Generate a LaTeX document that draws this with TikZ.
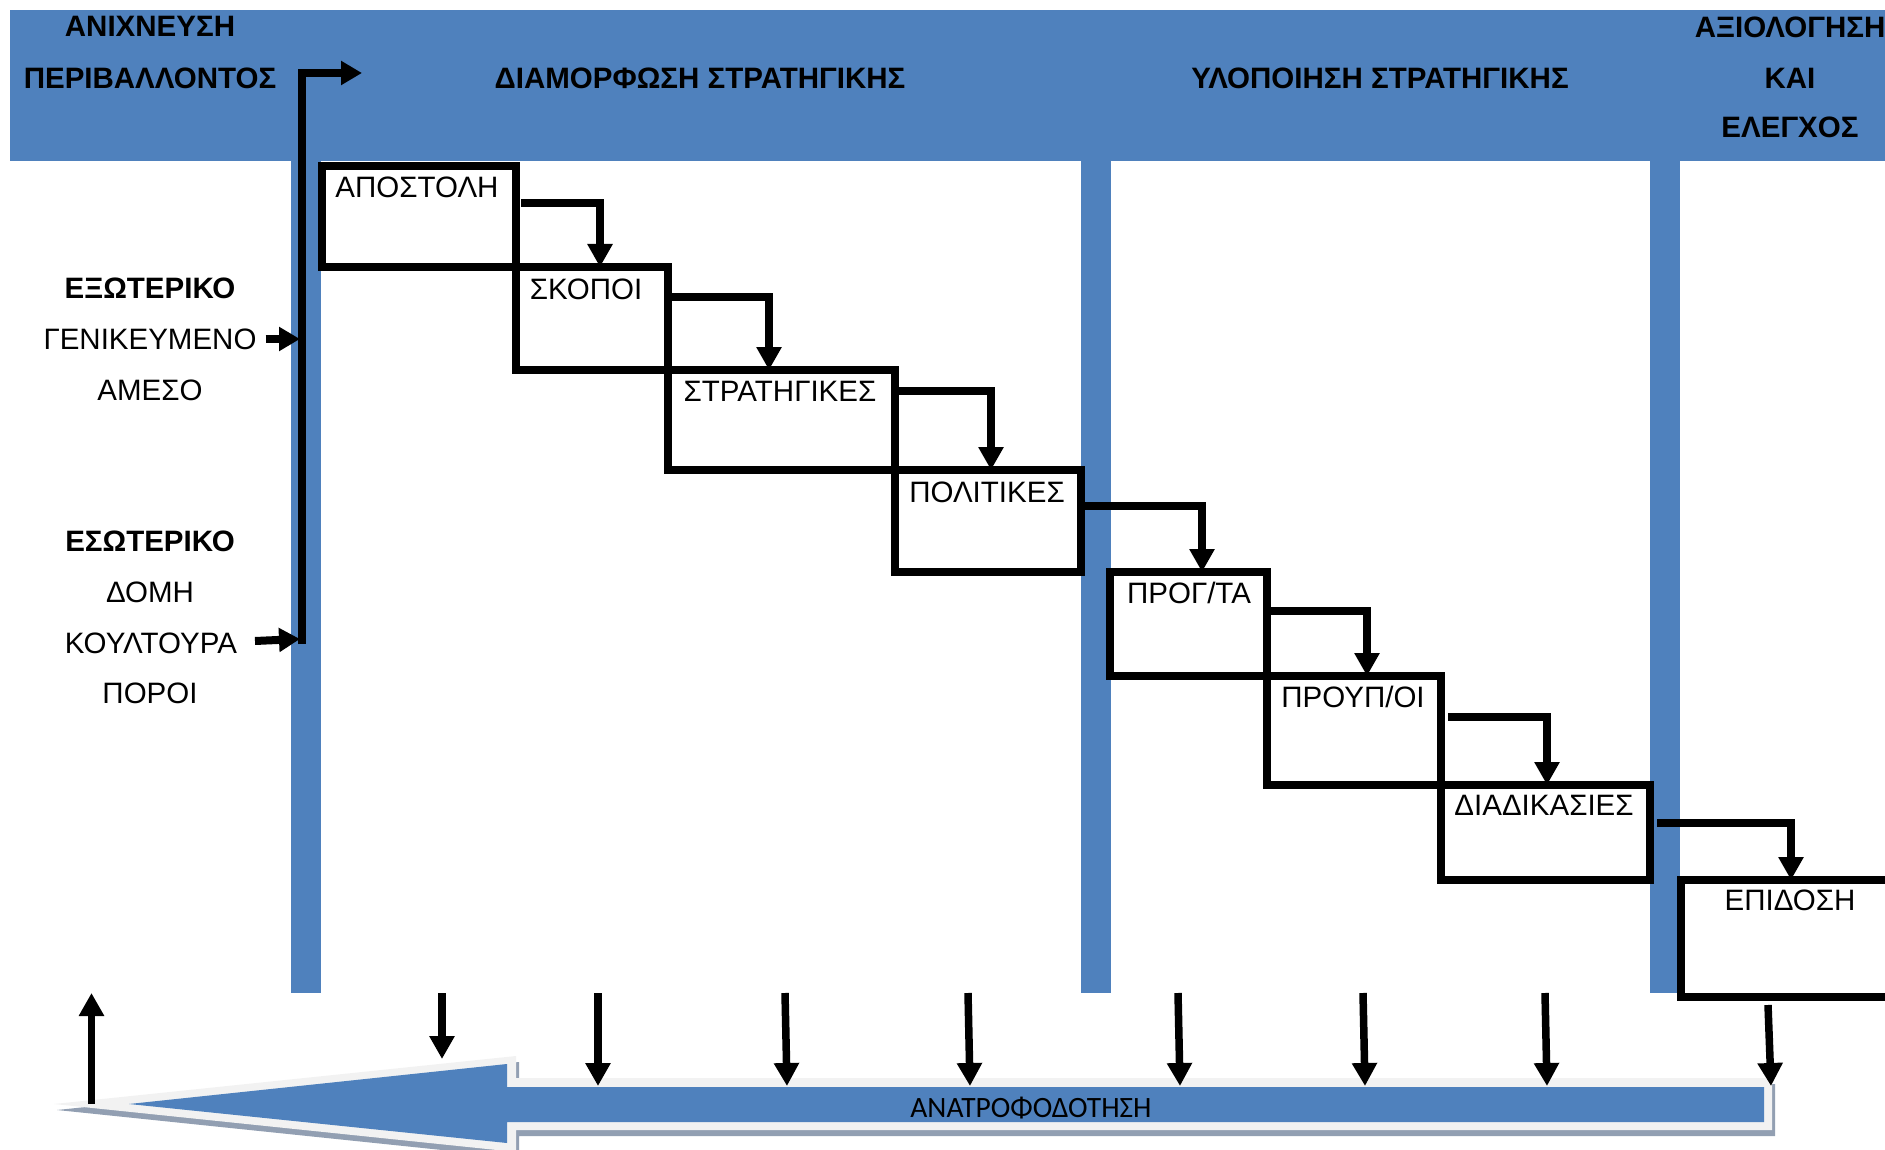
\documentclass[tikz,border=0pt]{standalone}
\usepackage{fontspec}
\setmainfont{Liberation Sans}
\newfontfamily\calibfont{Carlito}
\usetikzlibrary{arrows.meta}
\definecolor{bandblue}{HTML}{4F81BD}
\definecolor{rimgray}{HTML}{F2F2F2}
\definecolor{shadegray}{HTML}{929FB2}

\begin{document}
\begin{tikzpicture}[x=1pt,y=-1pt,
  head/.style={font=\fontsize{29.5}{35}\selectfont\bfseries, inner sep=0pt, text height=21pt, text depth=0pt},
  lbl/.style={font=\fontsize{29.5}{35}\selectfont, inner sep=0pt, text height=21pt, text depth=0pt},
  lblb/.style={lbl, font=\fontsize{29.5}{35}\selectfont\bfseries},
  stepbox/.style={draw, line width=8.5pt, rectangle, inner sep=0pt, outer sep=0pt},
  flow/.style={line width=7.5pt, -{Triangle[length=23pt,width=24pt]}},
  inflow/.style={line width=8pt, -{Triangle[length=21pt,width=23pt]}},
]
\useasboundingbox (0,0) rectangle (1885,1150);
\clip (0,0) rectangle (1885,1150);

% header band and the three phase dividers
\fill[bandblue] (10,10) rectangle (1885,161);
\fill[bandblue] (291,161) rectangle (321,993);
\fill[bandblue] (1081,161) rectangle (1111,993);
\fill[bandblue] (1650,161) rectangle (1680,993);

% phase titles
\node[head] (h1a) at (150,26.5) {ΑΝΙΧΝΕΥΣΗ};
\node[head] (h1b) at (150,78) {ΠΕΡΙΒΑΛΛΟΝΤΟΣ};
\node[head] (h2) at (700,78) {ΔΙΑΜΟΡΦΩΣΗ ΣΤΡΑΤΗΓΙΚΗΣ};
\node[head] (h3) at (1380,78) {ΥΛΟΠΟΙΗΣΗ ΣΤΡΑΤΗΓΙΚΗΣ};
\node[head] (h4a) at (1790,27.5) {ΑΞΙΟΛΟΓΗΣΗ};
\node[head] (h4b) at (1790,78) {ΚΑΙ};
\node[head] (h4c) at (1790,127.5) {ΕΛΕΓΧΟΣ};

% environment factors
\node[lblb] (ext) at (150,288) {ΕΞΩΤΕΡΙΚΟ};
\node[lbl] (gen) at (150,339) {ΓΕΝΙΚΕΥΜΕΝΟ};
\node[lbl] (ame) at (150,390) {ΑΜΕΣΟ};
\node[lblb] (int) at (150,541) {ΕΣΩΤΕΡΙΚΟ};
\node[lbl] (dom) at (150,592) {ΔΟΜΗ};
\node[lbl] (kou) at (151,643) {ΚΟΥΛΤΟΥΡΑ};
\node[lbl] (por) at (150,693) {ΠΟΡΟΙ};

% scanning line feeding the formulation phase
\coordinate (scanlow) at (302,644);
\coordinate (scanhigh) at (302,73);
\coordinate (scanend) at (362,73);
\draw[inflow] (scanlow) -- (scanhigh) -- (scanend);
\draw[inflow] ([xshift=9pt]gen.east) -- (300,339);
\draw[inflow] (255,641) -- (300,639);

% cascade of stages
\node[stepbox, minimum width=194pt, minimum height=101pt] (b1) at (419,216.5) {};
\node[stepbox, minimum width=152pt, minimum height=103pt] (b2) at (592,318.5) {};
\node[stepbox, minimum width=227pt, minimum height=100pt] (b3) at (781.5,420) {};
\node[stepbox, minimum width=186pt, minimum height=102pt] (b4) at (988,521) {};
\node[stepbox, minimum width=157pt, minimum height=104pt] (b5) at (1188.5,624) {};
\node[stepbox, minimum width=174pt, minimum height=109pt] (b6) at (1354,730.5) {};
\node[stepbox, minimum width=209pt, minimum height=95pt] (b7) at (1545.5,832.5) {};
\node[stepbox, minimum width=314pt, minimum height=117pt] (b8) at (1838,938.5) {};

\node[lbl] (t1) at (417,187) {ΑΠΟΣΤΟΛΗ};
\node[lbl] (t2) at (586,289) {ΣΚΟΠΟΙ};
\node[lbl] (t3) at (780,390.5) {ΣΤΡΑΤΗΓΙΚΕΣ};
\node[lbl] (t4) at (987,491.5) {ΠΟΛΙΤΙΚΕΣ};
\node[lbl] (t5) at (1189,593) {ΠΡΟΓ/ΤΑ};
\node[lbl] (t6) at (1353,697) {ΠΡΟΥΠ/ΟΙ};
\node[lbl] (t7) at (1544,805) {ΔΙΑΔΙΚΑΣΙΕΣ};
\node[lbl] (t8) at (1790,900) {ΕΠΙΔΟΣΗ};

% elbow connectors between consecutive stages
\draw[flow] ([xshift=5pt]b1.east |- 0,203) -| (600,0 |- b2.north);
\draw[flow] ([xshift=4pt]b2.east |- 0,297) -| (769,0 |- b3.north);
\draw[flow] ([xshift=4pt]b3.east |- 0,391) -| (991,0 |- b4.north);
\draw[flow] ([xshift=4pt]b4.east |- 0,506) -| (1202,0 |- b5.north);
\draw[flow] ([xshift=4pt]b5.east |- 0,611) -| (1367,0 |- b6.north);
\draw[flow] ([xshift=7pt]b6.east |- 0,717) -| (1547,0 |- b7.north);
\draw[flow] ([xshift=7pt]b7.east |- 0,823) -| (1791,0 |- b8.north);

% feedback arrow: shadow, light rim, blue body
\fill[shadegray, shift={(3,6)}] (54,1104) -- (516,1056) -- (516,1078) -- (1772,1078)
  -- (1772,1130) -- (516,1130) -- (516,1152) -- cycle;
\fill[rimgray] (54,1104) -- (516,1056) -- (516,1078) -- (1772,1078)
  -- (1772,1130) -- (516,1130) -- (516,1152) -- cycle;
\fill[bandblue] (129,1104) -- (507,1064) -- (507,1087) -- (1764,1087)
  -- (1764,1122) -- (507,1122) -- (507,1143) -- cycle;
\node[font=\calibfont\fontsize{29.5}{35}\selectfont, inner sep=0pt, text height=19pt, text depth=0pt]
  (fb) at (1031,1108) {ΑΝΑΤΡΟΦΟΔΟΤΗΣΗ};

% feedback inputs from every stage and return to scanning
\foreach \n/\xt/\yt/\xb/\yb in {1/442/993/442/1059, 2/598/993/598/1086, 3/785/993/787/1086,
    4/968/993/970/1086, 5/1178/993/1180/1086, 6/1363/993/1365/1086,
    7/1545/993/1547/1086, 8/1768/1005/1771/1086} {
  \coordinate (src\n) at (\xt,\yt);
  \coordinate (dst\n) at (\xb,\yb);
  \draw[flow] (src\n) -- (dst\n);
}
\coordinate (fbtip) at (91.5,1104);
\coordinate (scanbase) at (91.5,993);
\draw[flow] (fbtip) -- (scanbase);
\end{tikzpicture}
\end{document}
